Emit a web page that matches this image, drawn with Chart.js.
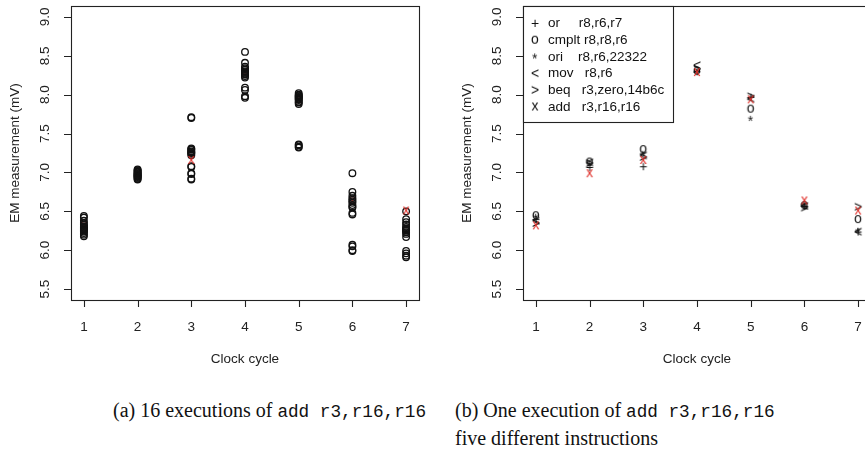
<!DOCTYPE html>
<html><head><meta charset="utf-8">
<script src="https://cdn.jsdelivr.net/npm/chart.js@4"></script>
<style>
html,body{margin:0;padding:0;width:865px;height:452px;overflow:hidden;background:#fff;}
#wrap{position:relative;width:865px;height:452px;overflow:hidden;}
canvas{position:absolute;top:0;}
#pa{left:0;}
#pb{left:432px;}
.cap{position:absolute;font-family:"Liberation Serif",serif;font-size:20px;line-height:24px;color:#111;white-space:nowrap;}
.cap .m{font-family:"Liberation Mono",monospace;font-size:17.7px;}
</style></head>
<body><div id="wrap">
<canvas id="pa" width="432" height="385"></canvas>
<canvas id="pb" width="460" height="385"></canvas>
<div class="cap" style="left:113px;top:398px;">(a) 16 executions of <span class="m">add r3,r16,r16</span></div>
<div class="cap" style="left:455px;top:398px;">(b) One execution of <span class="m">add r3,r16,r16</span></div>
<div class="cap" style="left:455px;top:426px;">five different instructions</div>
</div>
<script>
// ---- data ----
const cycles = [1, 2, 3, 4, 5, 6, 7];
const cycle1 = [6.44, 6.42, 6.38, 6.35, 6.33, 6.31, 6.30, 6.29, 6.28, 6.27, 6.26, 6.25, 6.24, 6.22, 6.20, 6.18];
const cycle2 = [7.04, 7.03, 7.02, 7.01, 7.00, 6.99, 6.98, 6.97, 6.96, 6.95, 6.94, 6.93, 6.92, 6.91, 6.95, 6.97];
const cycle3 = [7.71, 7.70, 7.31, 7.30, 7.29, 7.27, 7.26, 7.25, 7.24, 7.22, 7.08, 7.07, 6.99, 6.98, 6.92, 6.91];
const cycle4 = [8.55, 8.41, 8.36, 8.34, 8.32, 8.30, 8.29, 8.28, 8.27, 8.26, 8.24, 8.22, 8.09, 8.06, 7.98, 7.96];
const cycle5 = [8.02, 8.00, 7.99, 7.98, 7.97, 7.96, 7.95, 7.94, 7.93, 7.91, 7.90, 7.88, 7.36, 7.35, 7.33, 7.32];
const cycle6 = [6.99, 6.75, 6.70, 6.67, 6.65, 6.63, 6.61, 6.58, 6.56, 6.55, 6.48, 6.46, 6.07, 6.05, 6.00, 5.99];
const cycle7 = [6.50, 6.40, 6.36, 6.33, 6.30, 6.28, 6.27, 6.26, 6.25, 6.23, 6.21, 6.17, 5.99, 5.96, 5.93, 5.91];
const orVals    = [6.40, 7.07, 7.08, 8.30, 7.97, 6.57, 6.24];
const cmpltVals = [6.45, 7.14, 7.30, 8.31, 7.82, 6.58, 6.40];
const oriVals   = [6.43, 7.11, 7.24, 8.29, 7.69, 6.59, 6.25];
const movVals   = [6.38, 7.13, 7.22, 8.38, 7.95, 6.57, 6.24];
const beqVals   = [6.35, 7.12, 7.20, 8.33, 7.98, 6.55, 6.56];
const addVals   = [6.32, 6.99, 7.16, 8.29, 7.94, 6.64, 6.51];
const redOnTopCycles = [3, 7];
const legendSymbols = ["+", "o", "*", "<", ">", "x"];
const legendLabels = ["or     r8,r6,r7", "cmplt r8,r8,r6", "ori    r8,r6,22322", "mov   r8,r6", "beq   r3,zero,14b6c", "add   r3,r16,r16"];
const yTicks = [5.5, 6.0, 6.5, 7.0, 7.5, 8.0, 8.5, 9.0];
const yTickLabels = ["5.5", "6.0", "6.5", "7.0", "7.5", "8.0", "8.5", "9.0"];
const xTickLabels = ["1", "2", "3", "4", "5", "6", "7"];
const xTitle = "Clock cycle";
const yTitle = "EM measurement (mV)";

// ---- helpers ----
const FONT = '"Liberation Sans", Arial, sans-serif';
const RED = '#e0302a';
function glyph(ch, color) {
  const s = 18, c = document.createElement('canvas');
  c.width = s; c.height = s;
  const g = c.getContext('2d');
  g.font = '14px ' + FONT; g.fillStyle = color;
  g.textAlign = 'left'; g.textBaseline = 'alphabetic';
  const m = g.measureText(ch);
  const w = m.actualBoundingBoxLeft + m.actualBoundingBoxRight;
  g.fillText(ch, s / 2 - w / 2 + m.actualBoundingBoxLeft,
             s / 2 + (m.actualBoundingBoxAscent - m.actualBoundingBoxDescent) / 2);
  return c;
}
const glyphsBlack = legendSymbols.map(ch => glyph(ch, '#111'));
const redX = glyph('x', RED);

const axesPlugin = {
  id: 'rAxes',
  beforeDatasetsDraw(chart) {
    const ctx = chart.ctx, a = chart.chartArea, xs = chart.scales.x, ys = chart.scales.y;
    ctx.save();
    ctx.strokeStyle = '#222'; ctx.lineWidth = 1.1;
    ctx.strokeRect(a.left + 0.5, a.top + 0.5, a.right - a.left, a.bottom - a.top);
    ctx.beginPath();
    cycles.forEach(v => { const px = Math.round(xs.getPixelForValue(v)) + 0.5; ctx.moveTo(px, a.bottom); ctx.lineTo(px, a.bottom + 7); });
    yTicks.forEach(v => { const py = Math.round(ys.getPixelForValue(v)) + 0.5; ctx.moveTo(a.left, py); ctx.lineTo(a.left - 7, py); });
    ctx.stroke();
    ctx.fillStyle = '#222'; ctx.font = '13.5px ' + FONT;
    ctx.textAlign = 'center'; ctx.textBaseline = 'middle';
    cycles.forEach((v, i) => ctx.fillText(xTickLabels[i], xs.getPixelForValue(v), a.bottom + 27));
    ctx.fillText(xTitle, (xs.getPixelForValue(1) + xs.getPixelForValue(7)) / 2, a.bottom + 59);
    yTicks.forEach((v, i) => {
      ctx.save(); ctx.translate(a.left - 26, ys.getPixelForValue(v)); ctx.rotate(-Math.PI / 2);
      ctx.fillText(yTickLabels[i], 0, 0); ctx.restore();
    });
    ctx.save(); ctx.translate(a.left - 56, (a.top + a.bottom) / 2); ctx.rotate(-Math.PI / 2);
    ctx.fillText(yTitle, 0, 0); ctx.restore();
    ctx.restore();
  }
};

const legendPlugin = {
  id: 'rLegend',
  afterDatasetsDraw(chart) {
    const ctx = chart.ctx, a = chart.chartArea;
    const w = 150, h = 116;
    ctx.save();
    ctx.fillStyle = '#fff'; ctx.fillRect(a.left, a.top, w, h);
    ctx.strokeStyle = '#222'; ctx.lineWidth = 1.1;
    ctx.strokeRect(a.left + 0.5, a.top + 0.5, w, h);
    ctx.font = '13.5px ' + FONT; ctx.fillStyle = '#111';
    ctx.textAlign = 'left'; ctx.textBaseline = 'middle';
    legendLabels.forEach((lab, i) => {
      const y = a.top + 17 + i * 16.7;
      const gimg = glyphsBlack[i];
      ctx.drawImage(gimg, a.left + 12 - gimg.width / 2, y - gimg.height / 2);
      ctx.fillText(lab, a.left + 25, y + 0.5);
    });
    ctx.restore();
  }
};

const scalesCfg = {
  x: { type: 'linear', min: 0.76, max: 7.24, display: false },
  y: { type: 'linear', min: 5.36, max: 9.14, display: false }
};
const baseOpts = (padding) => ({
  responsive: false, animation: false,
  layout: { padding },
  plugins: { legend: { display: false }, tooltip: { enabled: false } },
  scales: scalesCfg
});

// ---- left panel ----
const cycleSets = [cycle1, cycle2, cycle3, cycle4, cycle5, cycle6, cycle7];
const circlesOver = [], circlesUnder = [];
cycleSets.forEach((arr, i) => arr.forEach(v => {
  (redOnTopCycles.includes(cycles[i]) ? circlesUnder : circlesOver).push({ x: cycles[i], y: v });
}));
const circleStyle = { pointStyle: 'circle', pointRadius: 3.3, borderWidth: 1.3,
  borderColor: '#111', backgroundColor: 'rgba(0,0,0,0)' };
new Chart(document.getElementById('pa'), {
  type: 'scatter',
  data: { datasets: [
    Object.assign({ data: circlesOver }, circleStyle),
    { data: cycles.map((c, i) => ({ x: c, y: addVals[i] })), pointStyle: redX, pointRadius: 5 },
    Object.assign({ data: circlesUnder }, circleStyle)
  ]},
  options: baseOpts({ left: 71, right: 13, top: 3, bottom: 85 }),
  plugins: [axesPlugin]
});

// ---- right panel ----
const instrSets = [orVals, cmpltVals, oriVals, movVals, beqVals];
const rightDatasets = [{ data: cycles.map((c, i) => ({ x: c, y: addVals[i] })), pointStyle: redX, pointRadius: 5 }];
instrSets.forEach((arr, k) => rightDatasets.push({
  data: cycles.map((c, i) => ({ x: c, y: arr[i] })), pointStyle: glyphsBlack[k], pointRadius: 5
}));
rightDatasets.splice(1, 5, ...rightDatasets.slice(1).reverse());
new Chart(document.getElementById('pb'), {
  type: 'scatter',
  data: { datasets: rightDatasets },
  options: baseOpts({ left: 91, right: 21, top: 3, bottom: 85 }),
  plugins: [axesPlugin, legendPlugin]
});
</script>
</body></html>
